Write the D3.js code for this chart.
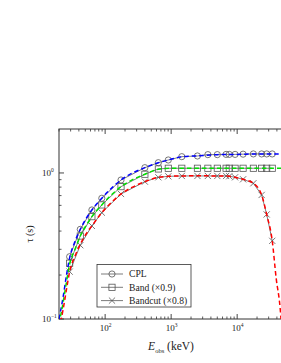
<!DOCTYPE html>
<html><head><meta charset="utf-8">
<script src="https://cdn.jsdelivr.net/npm/d3@7"></script>
<style>body{margin:0;background:#fff}svg{display:block}</style>
</head><body>
<svg id="c" width="281" height="363"></svg>
<script>
// Marker energies (keV) shared by all three series
const markerE = [29, 42, 63, 89, 174, 400, 640, 905, 1450, 2500, 3600, 5000, 6800, 7600, 9300, 12300, 17600, 23500, 28000, 34000];
const cplTau = [0.267, 0.411, 0.558, 0.671, 0.895, 1.087, 1.176, 1.227, 1.293, 1.307, 1.335, 1.335, 1.34, 1.34, 1.34, 1.345, 1.35, 1.35, 1.35, 1.35];
const bandTau = [0.241, 0.37, 0.502, 0.604, 0.806, 0.98, 1.065, 1.077, 1.077, 1.077, 1.077, 1.077, 1.077, 1.077, 1.077, 1.077, 1.077, 1.077, 1.077, 1.077];
const bandcutTau = [0.211, 0.32, 0.434, 0.535, 0.718, 0.872, 0.934, 0.948, 0.954, 0.954, 0.954, 0.954, 0.954, 0.95, 0.934, 0.905, 0.85, 0.707, 0.52, 0.343];

// Model (dashed) curves
const modelE = [20, 23, 26, 29, 35, 42, 52, 63, 89, 130, 174, 260, 400, 640, 905, 1450, 2500, 5000, 10000, 20000, 50000];
const cplModel = [0.1, 0.14, 0.2, 0.262, 0.34, 0.411, 0.49, 0.558, 0.671, 0.8, 0.895, 1.0, 1.087, 1.176, 1.227, 1.29, 1.31, 1.335, 1.34, 1.35, 1.35];
const bandModel = [0.093, 0.128, 0.18, 0.238, 0.3, 0.37, 0.44, 0.502, 0.604, 0.72, 0.806, 0.9, 0.98, 1.06, 1.075, 1.077, 1.077, 1.077, 1.077, 1.077, 1.077];
const cutE = [20, 23, 26, 29, 35, 42, 52, 63, 89, 130, 174, 260, 400, 640, 905, 1450, 2500, 5000, 7600, 9300, 12300, 17600, 23500, 28000, 34000, 39000, 44600, 47000];
const cutModel = [0.085, 0.115, 0.16, 0.211, 0.27, 0.325, 0.385, 0.434, 0.535, 0.64, 0.718, 0.8, 0.872, 0.934, 0.948, 0.954, 0.956, 0.954, 0.95, 0.934, 0.905, 0.85, 0.707, 0.52, 0.343, 0.19, 0.121, 0.09];

const xMajor = [100, 1000, 10000];
const xMajorLabels = ["2", "3", "4"];
const yMajor = [0.1, 1];
const yMajorLabels = ["-1", "0"];
const legendLabels = ["CPL", "Band (\u00d70.9)", "Bandcut (\u00d70.8)"];
const colors = ["#0000ff", "#00e000", "#ff0000"];

const L = 59, R = 283.3, T = 129, B = 319;
const x = d3.scaleLog().domain([20, 5e4]).range([L, R]);
const y = d3.scaleLog().domain([0.1, 2]).range([B, T]);
const svg = d3.select("#c");
const axisCol = "#333";
const serif = "'Liberation Serif','DejaVu Serif',serif";

svg.append("clipPath").attr("id", "clip").append("rect")
  .attr("x", L).attr("y", T).attr("width", R - L).attr("height", B - T);

// minor ticks
const xMinor = [];
for (let d = 10; d <= 10000; d *= 10) for (let k = 2; k <= 9; k++) { const v = d * k; if (v >= 20 && v <= 5e4) xMinor.push(v); }
const yMinor = [0.2, 0.3, 0.4, 0.5, 0.6, 0.7, 0.8, 0.9];

const g = svg.append("g");
xMinor.forEach(v => {
  g.append("line").attr("x1", x(v)).attr("x2", x(v)).attr("y1", B).attr("y2", B - 2.5).attr("stroke", axisCol).attr("stroke-width", 0.8);
  g.append("line").attr("x1", x(v)).attr("x2", x(v)).attr("y1", T).attr("y2", T + 2.5).attr("stroke", axisCol).attr("stroke-width", 0.8);
});
xMajor.forEach(v => {
  g.append("line").attr("x1", x(v)).attr("x2", x(v)).attr("y1", B).attr("y2", B - 5).attr("stroke", axisCol).attr("stroke-width", 0.9);
  g.append("line").attr("x1", x(v)).attr("x2", x(v)).attr("y1", T).attr("y2", T + 5).attr("stroke", axisCol).attr("stroke-width", 0.9);
});
yMinor.forEach(v => {
  g.append("line").attr("x1", L).attr("x2", L + 2.5).attr("y1", y(v)).attr("y2", y(v)).attr("stroke", axisCol).attr("stroke-width", 0.8);
});
yMajor.forEach(v => {
  g.append("line").attr("x1", L).attr("x2", L + 5).attr("y1", y(v)).attr("y2", y(v)).attr("stroke", axisCol).attr("stroke-width", 0.9);
});

g.append("rect").attr("x", L).attr("y", T).attr("width", R - L).attr("height", B - T)
  .attr("fill", "none").attr("stroke", axisCol).attr("stroke-width", 1);

// tick labels
xMajor.forEach((v, i) => {
  const t = svg.append("text").attr("x", x(v) - 5.5).attr("y", 331).attr("font-family", serif).attr("font-size", 9).attr("fill", "#222");
  t.append("tspan").text("10");
  t.append("tspan").attr("dy", -4).attr("font-size", 5.5).text(xMajorLabels[i]);
});
yMajor.forEach((v, i) => {
  const t = svg.append("text").attr("x", 42).attr("y", y(v) + 3).attr("font-family", serif).attr("font-size", 9).attr("fill", "#222");
  t.append("tspan").text("10");
  t.append("tspan").attr("dy", -4).attr("font-size", 5.5).text(yMajorLabels[i].replace("-", "\u2212"));
});

// axis titles
const xt = svg.append("text").attr("x", 171).attr("y", 350).attr("text-anchor", "middle")
  .attr("font-family", serif).attr("font-size", 11.5).attr("fill", "#222");
xt.append("tspan").attr("font-style", "italic").text("E");
xt.append("tspan").attr("dy", 3).attr("font-size", 6.5).text("obs");
xt.append("tspan").attr("dy", -3).text(" (keV)");
svg.append("text").attr("transform", "translate(33,234) rotate(-90)").attr("text-anchor", "middle")
  .attr("font-family", serif).attr("font-size", 10).attr("fill", "#222").text("\u03c4 (s)");

// data
const plot = svg.append("g").attr("clip-path", "url(#clip)");
const seriesTau = [cplTau, bandTau, bandcutTau];
const models = [[modelE, cplModel], [modelE, bandModel], [cutE, cutModel]];
const markerCol = "#555";
const sz = 3.1;
function marker(sel, kind, cx, cy) {
  if (kind === 0) sel.append("circle").attr("cx", cx).attr("cy", cy).attr("r", sz).attr("fill", "none").attr("stroke", markerCol).attr("stroke-width", 0.8);
  else if (kind === 1) sel.append("rect").attr("x", cx - sz).attr("y", cy - sz).attr("width", 2 * sz).attr("height", 2 * sz).attr("fill", "none").attr("stroke", markerCol).attr("stroke-width", 0.8);
  else sel.append("path").attr("d", `M${cx - sz},${cy - sz}L${cx + sz},${cy + sz}M${cx - sz},${cy + sz}L${cx + sz},${cy - sz}`).attr("stroke", markerCol).attr("stroke-width", 0.8);
}
const line = d3.line().x(d => x(d[0])).y(d => y(d[1]));
seriesTau.forEach((tau, s) => {
  const pts = markerE.map((e, i) => [e, tau[i]]);
  plot.append("path").attr("d", line(pts)).attr("fill", "none").attr("stroke", "#444").attr("stroke-width", 0.7);
  pts.forEach(p => marker(plot, s, x(p[0]), y(p[1])));
});
const mline = d3.line().x(d => x(d[0])).y(d => y(d[1])).curve(d3.curveMonotoneX);
models.forEach(([es, ts], s) => {
  const pts = es.map((e, i) => [e, ts[i]]);
  plot.append("path").attr("d", mline(pts)).attr("fill", "none").attr("stroke", colors[s])
    .attr("stroke-width", 1.5).attr("stroke-dasharray", "4.5,3");
});

// legend
const lg = svg.append("g");
lg.append("rect").attr("x", 97).attr("y", 264.5).attr("width", 94).attr("height", 42.5)
  .attr("fill", "#fff").attr("stroke", axisCol).attr("stroke-width", 0.8);
legendLabels.forEach((lab, i) => {
  const cy = 274 + i * 13.3;
  lg.append("line").attr("x1", 101).attr("x2", 123).attr("y1", cy).attr("y2", cy).attr("stroke", "#444").attr("stroke-width", 0.7);
  marker(lg, i, 112, cy);
  lg.append("text").attr("x", 129).attr("y", cy + 3.3).attr("font-family", serif).attr("font-size", 9.6).attr("fill", "#222").text(lab);
});
</script>
</body></html>
